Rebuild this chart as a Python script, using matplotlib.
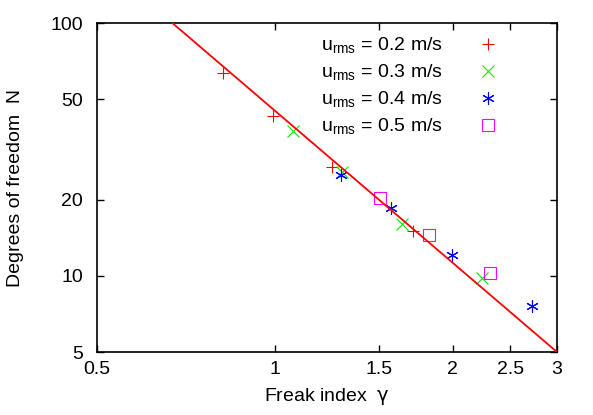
import numpy as np
import matplotlib
matplotlib.use("Agg")
import matplotlib.pyplot as plt
from matplotlib.ticker import FixedLocator, FixedFormatter, NullLocator

plt.rcParams['font.family'] = ['Liberation Sans', 'DejaVu Sans']
plt.rcParams['mathtext.fontset'] = 'custom'
plt.rcParams['mathtext.rm'] = 'Liberation Sans'
plt.rcParams['mathtext.it'] = 'DejaVu Sans'

# measured points, freak index gamma vs degrees of freedom N
g_02 = [0.818, 0.994, 1.247, 1.71]
n_02 = [63.3, 42.9, 27.0, 15.05]
g_03 = [1.072, 1.30, 1.643, 2.24]
n_03 = [37.5, 25.8, 16.0, 9.78]
g_04 = [1.294, 1.572, 1.99, 2.72]
n_04 = [25.1, 18.6, 12.1, 7.62]
g_05 = [1.506, 1.823, 2.31]
n_05 = [20.3, 14.5, 10.24]

# fit N = A * gamma^p
fit_a = 45.0
fit_p = -2.0

xticks = [0.5, 1, 1.5, 2, 2.5, 3]
yticks = [5, 10, 20, 50, 100]

fs = 14

fig = plt.figure(figsize=(5.93, 4.15), dpi=100)
ax = fig.add_axes([0.1636, 0.1518, 0.7757, 0.7925])

gx = np.geomspace(0.5, 3, 200)
ax.plot(gx, fit_a * gx**fit_p, color='#ff0000', lw=1.3, zorder=3)

ms = 9
mew = 0.8
ax.plot(g_02, n_02, ls='none', marker='+', color='#ff0000', ms=ms, mew=mew,
        label=r'u$_{\rm rms}$ = 0.2 m/s')
ax.plot(g_03, n_03, ls='none', marker='x', color='#00ee00', ms=ms*0.9, mew=mew,
        label=r'u$_{\rm rms}$ = 0.3 m/s')
ax.plot(g_04, n_04, ls='none', marker=(6, 2, 0), color='#0000ff', ms=ms, mew=mew,
        label=r'u$_{\rm rms}$ = 0.4 m/s')
ax.plot(g_05, n_05, ls='none', marker='s', color='#ff00ff', mfc='none', ms=ms*0.95, mew=mew,
        label=r'u$_{\rm rms}$ = 0.5 m/s')

ax.set_xscale('log')
ax.set_yscale('log')
ax.set_xlim(0.5, 3)
ax.set_ylim(5, 100)

ax.xaxis.set_major_locator(FixedLocator(xticks))
ax.xaxis.set_major_formatter(FixedFormatter([f'{v:g}' for v in xticks]))
ax.xaxis.set_minor_locator(NullLocator())
ax.yaxis.set_major_locator(FixedLocator(yticks))
ax.yaxis.set_major_formatter(FixedFormatter([f'{v:g}' for v in yticks]))
ax.yaxis.set_minor_locator(NullLocator())
ax.tick_params(direction='in', length=5, width=1, top=True, right=True,
               labelsize=fs)
ax.tick_params(axis='x', pad=6.5)
ax.tick_params(axis='y', pad=10)
for s in ax.spines.values():
    s.set_linewidth(1.2)

ax.set_xlabel(r'Freak index  $\gamma$', fontsize=fs, labelpad=6)
ax.set_ylabel('Degrees of freedom  N', fontsize=fs, labelpad=19)

leg = ax.legend(loc='upper right', bbox_to_anchor=(0.876, 0.962), frameon=False,
                markerfirst=False, fontsize=fs, handlelength=1.2,
                handletextpad=1.75, labelspacing=0.34, borderaxespad=0,
                borderpad=0)

fig.savefig('out.png', dpi=100)
